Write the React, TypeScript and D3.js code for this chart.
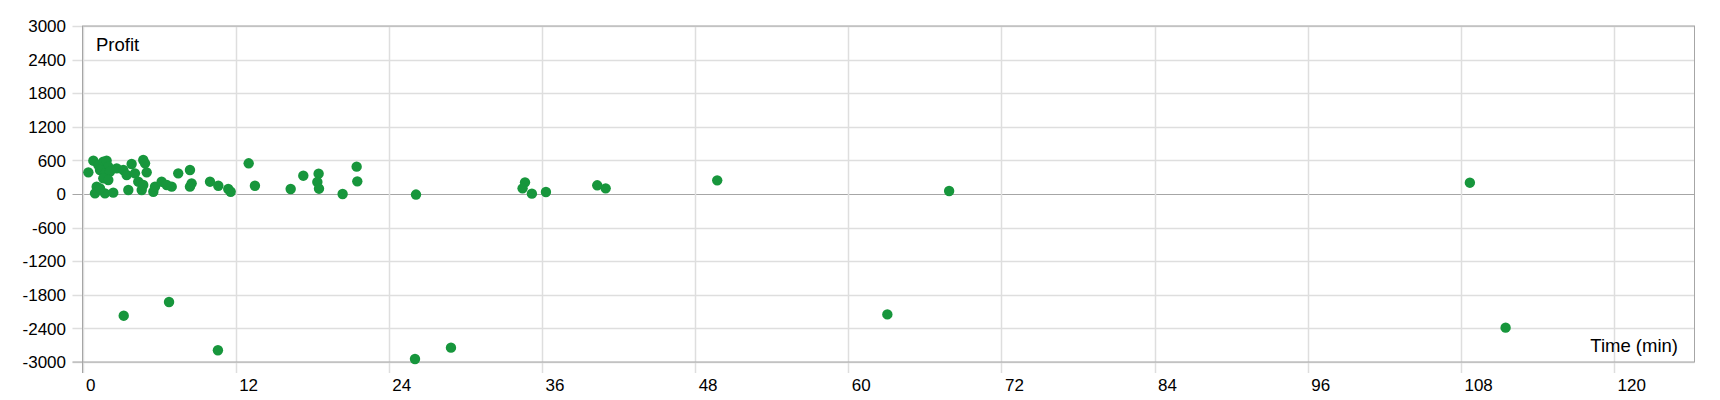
import React from "react";
import * as d3 from "d3";

const times: number[] = [
  0.46, 0.85, 1.24, 1.63, 1.89, 2.02, 1.37, 1.76, 2.15, 2.68, 1.63, 2.02, 1.11, 0.98, 1.76, 2.41, 1.37,
  3.2, 3.46, 3.85, 4.11, 4.76, 4.9, 5.03, 3.59, 4.37, 4.64, 4.76, 5.55, 5.68, 6.2, 6.6, 6.99, 7.5,
  8.42, 8.55, 8.42, 9.99, 10.64, 11.42, 11.61, 13.02, 13.51, 16.31, 17.3, 18.5, 18.4, 18.53, 20.38,
  21.48, 21.53, 26.13, 34.67, 34.48, 35.21, 36.31, 40.33, 40.99, 49.73, 67.9, 108.7,
  3.23, 6.78, 10.61, 26.05, 28.87, 63.06, 111.5,
];
const profits: number[] = [
  387, 595, 518, 577, 595, 488, 429, 369, 399, 458, 280, 250, 131, 12, 12, 24, 101,
  429, 339, 536, 369, 607, 548, 387, 71, 220, 71, 161, 41, 131, 220, 161, 131, 369,
  429, 190, 131, 220, 148, 89, 41, 548, 148, 89, 327, 363, 214, 95, 0,
  488, 226, -10, 208, 101, 6, 36, 155, 101, 244, 54, 202,
  -2173, -1929, -2791, -2946, -2744, -2150, -2387,
];
const xTicks: number[] = [0, 12, 24, 36, 48, 60, 72, 84, 96, 108, 120];
const yTicks: number[] = [-3000, -2400, -1800, -1200, -600, 0, 600, 1200, 1800, 2400, 3000];
const yTitle = "Profit";
const xTitle = "Time (min)";

const W = 1720;
const H = 400;
const left = 82.5;
const right = 1694.5;
const top = 26;
const bottom = 362;
const FONT = "'Liberation Sans', Arial, sans-serif";

export default function App() {
  const x = d3.scaleLinear().domain([0, 126.3]).range([left, right]);
  const y = d3.scaleLinear().domain([-3000, 3000]).range([bottom, top]);
  const pts = times.map((t, i) => ({ t, v: profits[i] }));
  return (
    <svg width={W} height={H} style={{ position: "absolute", left: 0, top: 0, background: "#fff" }}>
      <g>
        {yTicks.map((v) => (
          <line key={"gy" + v} x1={left - 10} x2={right} y1={Math.round(y(v)) + 0.5} y2={Math.round(y(v)) + 0.5}
            stroke={v === 0 ? "#a6a6a6" : "#dedede"} strokeWidth={v === 0 ? 1 : 1.5} />
        ))}
        {xTicks.map((t) => (
          <line key={"gx" + t} x1={Math.round(x(t)) + 0.5} x2={Math.round(x(t)) + 0.5} y1={top} y2={bottom + 11}
            stroke="#dedede" strokeWidth={1.5} />
        ))}
        <rect x={left} y={top} width={right - left} height={bottom - top} fill="none" stroke="#a6a6a6" strokeWidth={1} />
        <line x1={left} x2={left} y1={top} y2={bottom + 11} stroke="#a6a6a6" />
        <line x1={left - 10} x2={left} y1={bottom} y2={bottom} stroke="#a6a6a6" />
      </g>
      <g fontFamily={FONT} fontSize={17} fill="#000">
        {yTicks.map((v) => (
          <text key={"ty" + v} x={66} y={y(v)} dy="0.36em" textAnchor="end">{v}</text>
        ))}
        {xTicks.map((t) => (
          <text key={"tx" + t} x={x(t) + 3.5} y={391} textAnchor="start">{t}</text>
        ))}
        <text x={96} y={51} fontSize={18.5}>{yTitle}</text>
        <text x={1678} y={352} fontSize={18.5} textAnchor="end">{xTitle}</text>
      </g>
      <g fill="#17963c">
        {pts.map((p, i) => (
          <circle key={i} cx={x(p.t)} cy={y(p.v)} r={5.2} />
        ))}
      </g>
    </svg>
  );
}
